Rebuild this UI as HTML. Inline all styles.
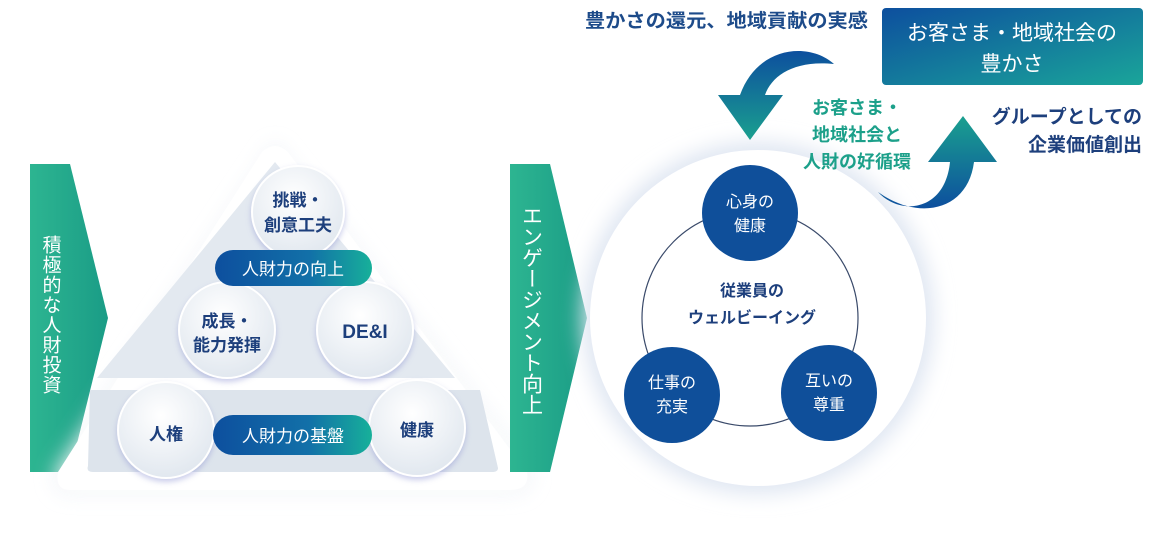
<!DOCTYPE html>
<html><head><meta charset="utf-8"><style>
html,body{margin:0;padding:0;background:#fff}
svg{display:block}
text{font-family:"Liberation Sans","Noto Sans CJK JP",sans-serif}
</style></head><body>
<svg width="1169" height="536" viewBox="0 0 1169 536" xmlns="http://www.w3.org/2000/svg">
<defs>
<linearGradient id="gt" x1="0" y1="0" x2="1" y2="0"><stop offset="0" stop-color="#2db591"/><stop offset="1" stop-color="#1a9c86"/></linearGradient>
<linearGradient id="gp" x1="0" y1="0" x2="1" y2="0"><stop offset="0" stop-color="#0d4f9e"/><stop offset="0.6" stop-color="#1270a8"/><stop offset="1" stop-color="#17b09a"/></linearGradient>
<linearGradient id="gb" x1="0" y1="0" x2="1" y2="1"><stop offset="0" stop-color="#0d4f9e"/><stop offset="1" stop-color="#1aa59a"/></linearGradient>
<linearGradient id="ga" x1="0" y1="0" x2="0" y2="1"><stop offset="0" stop-color="#0d4f9e"/><stop offset="1" stop-color="#1aa08f"/></linearGradient>
<linearGradient id="ga2" x1="0" y1="1" x2="0" y2="0"><stop offset="0" stop-color="#0d4f9e"/><stop offset="1" stop-color="#1aa08f"/></linearGradient>
<radialGradient id="gc" cx="0.45" cy="0.35" r="0.7"><stop offset="0" stop-color="#ffffff"/><stop offset="1" stop-color="#dfe6ee"/></radialGradient>
<filter id="sh" x="-30%" y="-30%" width="160%" height="160%"><feGaussianBlur stdDeviation="10"/></filter>
<filter id="cs" x="-30%" y="-30%" width="160%" height="160%"><feDropShadow dx="0" dy="3" stdDeviation="3" flood-color="#8a8fd0" flood-opacity="0.45"/></filter>
</defs>

<!-- left arrow -->
<polygon points="30,164 70,164 108,318 70,472 30,472" fill="url(#gt)"/>
<text font-size="19" fill="#fff" writing-mode="tb" x="50" y="235" letter-spacing="1">積極的な人財投資</text>

<!-- triangle container -->
<path d="M275,148 L528,470 Q530,490 510,490 L70,490 Q55,490 58,472 Z" fill="#fff" stroke="#e6ebf3" stroke-width="6" filter="url(#sh)" opacity="0.9"/>
<path d="M262,152 Q275,140 288,152 L527,472 Q530,490 510,490 L70,490 Q55,490 58,472 Z" fill="#fff"/>
<path d="M275,162 L455,378 L97,378 Z" fill="#e3e9f0"/>
<path d="M90,390 L480,390 L498,468 Q498,472 492,472 L93,472 Q86,472 88,466 Z" fill="#dde4ec"/>

<!-- circles -->
<g filter="url(#cs)" fill="url(#gc)" stroke="#fff" stroke-width="2">
<circle cx="298" cy="212" r="46"/>
<circle cx="227" cy="330" r="48"/>
<circle cx="365" cy="330" r="48"/>
<circle cx="166" cy="430" r="48"/>
<circle cx="417" cy="428" r="48"/>
</g>
<g fill="#1d3f7c" font-size="17" font-weight="bold" text-anchor="middle">
<text x="298" y="206">挑戦・</text><text x="298" y="231">創意工夫</text>
<text x="227" y="327">成長・</text><text x="227" y="351">能力発揮</text>
<text x="365" y="338" font-size="19">DE&amp;I</text>
<text x="166" y="440">人権</text>
<text x="417" y="436">健康</text>
</g>
<rect x="215" y="250" width="157" height="36" rx="18" fill="url(#gp)"/>
<text x="293" y="275" font-size="17" fill="#fff" text-anchor="middle">人財力の向上</text>
<rect x="213" y="415" width="159" height="40" rx="20" fill="url(#gp)"/>
<text x="293" y="442" font-size="17" fill="#fff" text-anchor="middle">人財力の基盤</text>

<!-- right arrow -->
<polygon points="510,164 550,164 587,318 550,472 510,472" fill="url(#gt)"/>
<text font-size="21" fill="#fff" writing-mode="tb" x="531" y="205">エンゲージメント向上</text>

<!-- big circle -->
<circle cx="758" cy="318" r="176" fill="#dfe6f2" filter="url(#sh)"/>
<circle cx="758" cy="318" r="168" fill="#fff"/>
<circle cx="750" cy="318" r="108" fill="none" stroke="#3a4a6a" stroke-width="1.2"/>
<g fill="#0f4f9a">
<circle cx="750" cy="213" r="48"/>
<circle cx="672" cy="395" r="48"/>
<circle cx="829" cy="393" r="48"/>
</g>
<g fill="#fff" font-size="16" text-anchor="middle">
<text x="750" y="207">心身の</text><text x="750" y="231">健康</text>
<text x="672" y="388">仕事の</text><text x="672" y="412">充実</text>
<text x="829" y="386">互いの</text><text x="829" y="410">尊重</text>
</g>
<g fill="#1d3f7c" font-size="16" font-weight="bold" text-anchor="middle">
<text x="752" y="296">従業員の</text><text x="752" y="323">ウェルビーイング</text>
</g>

<!-- top -->
<text x="585" y="27" font-size="19" font-weight="bold" fill="#1d4b8a" textLength="283" lengthAdjust="spacingAndGlyphs">豊かさの還元、地域貢献の実感</text>
<rect x="882" y="8" width="261" height="77" rx="4" fill="url(#gb)"/>
<text x="1012" y="40" font-size="21" fill="#fff" text-anchor="middle">お客さま・地域社会の</text>
<text x="1012" y="71" font-size="21" fill="#fff" text-anchor="middle">豊かさ</text>

<path d="M834,64 C810,42 758,45 740,95 L718,95 L750,140 L783,95 L765,95 C772,75 795,60 834,64 Z" fill="url(#ga)"/>
<path d="M878,192 C900,216 945,212 950,162 L928,162 L963,116 L997,162 L974,162 C968,210 920,222 878,192 Z" fill="url(#ga2)"/>

<g fill="#1ca08a" font-size="18" font-weight="bold" text-anchor="middle">
<text x="857" y="114">お客さま・</text>
<text x="857" y="141">地域社会と</text>
<text x="857" y="168">人財の好循環</text>
</g>
<g fill="#1d3f7c" font-size="19" font-weight="bold" text-anchor="end">
<text x="1142" y="123">グループとしての</text>
<text x="1142" y="151">企業価値創出</text>
</g>
</svg>
</body></html>
